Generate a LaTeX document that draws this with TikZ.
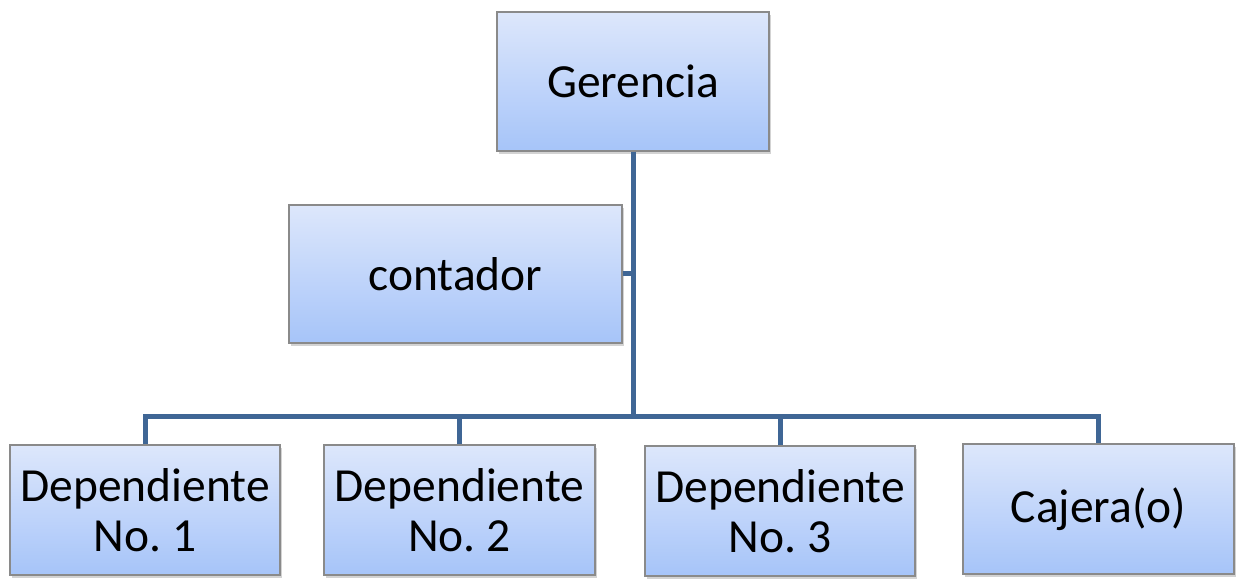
\documentclass[tikz,border=0pt]{standalone}
\usepackage{fontspec}
\setmainfont{Carlito}
\usetikzlibrary{shadows}
\frenchspacing

\definecolor{boxtop}{HTML}{DDE7FB}
\definecolor{boxbot}{HTML}{A6C4F9}
\definecolor{boxline}{HTML}{8A8A8A}
\definecolor{orgline}{HTML}{3F6695}

\begin{document}
\begin{tikzpicture}[x=1pt,y=1pt,
    puesto/.style={draw=boxline, line width=1.2pt, top color=boxtop, bottom color=boxbot,
      drop shadow={opacity=0.35, shadow xshift=2pt, shadow yshift=-3pt},
      inner sep=0pt, align=center, font=\fontsize{47.5}{50}\selectfont},
    org/.style={draw=orgline, line width=5pt}]
    \useasboundingbox (0,0) rectangle (1236,579);
    \node[puesto, minimum width=272, minimum height=139] (ger) at (633,497.5) {Gerencia};
    \node[puesto, minimum width=333, minimum height=138] (cont) at (455.5,305) {contador};
    \node[puesto, minimum width=270, minimum height=130] (dep1) at (145,69) {Dependiente\\No. 1};
    \node[puesto, minimum width=271, minimum height=130] (dep2) at (459.5,69) {Dependiente\\No. 2};
    \node[puesto, minimum width=270, minimum height=130] (dep3) at (780,68) {Dependiente\\No. 3};
    \node[puesto, minimum width=271, minimum height=130] (caj) at (1098.5,70) {Cajera(o)};
    \coordinate (bus) at (633,163);
    \draw[org] (ger.south) -- (bus);
    \draw[org] (cont.east) -- (cont.east -| bus);
    \draw[org] (dep1.north) |- (bus) -| (caj.north);
    \draw[org] (dep2.north) -- (dep2.north |- bus);
    \draw[org] (dep3.north) -- (dep3.north |- bus);
    \end{tikzpicture}
\end{document}
